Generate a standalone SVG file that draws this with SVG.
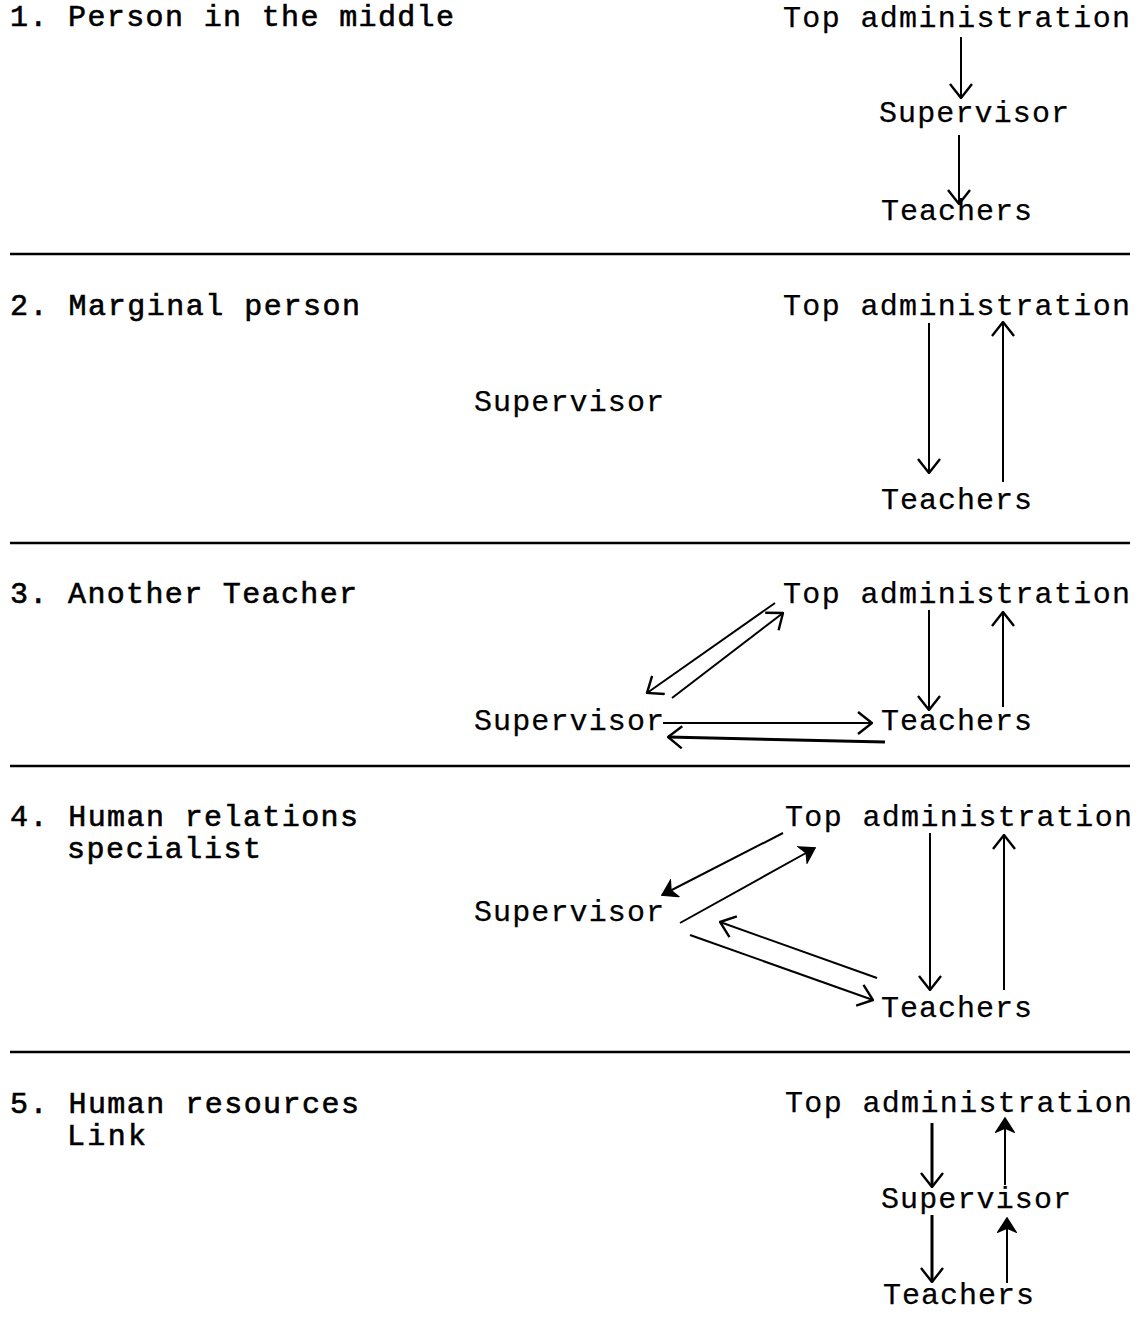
<svg xmlns="http://www.w3.org/2000/svg" width="1142" height="1337" viewBox="0 0 1142 1337">
<style>
text{font-family:"Liberation Mono","Courier New",monospace;font-size:30px;fill:#000;stroke:#000;stroke-width:0.25}
.lbl{stroke-width:0.6}
.rule{stroke:#000;stroke-width:2.6}
.c{stroke:#000;stroke-width:2;fill:none}
.t{stroke-width:3}
</style>
<defs>
<marker id="open" markerUnits="userSpaceOnUse" viewBox="0 0 16 24" markerWidth="16" markerHeight="24" refX="15" refY="12" orient="auto">
<path d="M1,1 L15,12 L1,23" fill="none" stroke="#000" stroke-width="2.4"/>
</marker>
<marker id="solid" markerUnits="userSpaceOnUse" viewBox="0 0 16 20" markerWidth="16" markerHeight="20" refX="15" refY="10" orient="auto">
<path d="M1,1 L15,10 L1,19 L5,10 Z" fill="#000" stroke="#000" stroke-width="1.5"/>
</marker>
</defs>
<rect width="1142" height="1337" fill="#fff"/>

<g id="dividers">
<line class="rule" x1="10" y1="254" x2="1130" y2="254"/>
<line class="rule" x1="10" y1="543" x2="1130" y2="543"/>
<line class="rule" x1="10" y1="766" x2="1130" y2="766"/>
<line class="rule" x1="10" y1="1052" x2="1130" y2="1052"/>
</g>

<g id="labels">
<text class="lbl" x="10" y="26" textLength="444">1. Person in the middle</text>
<text class="lbl" x="10" y="315" textLength="350">2. Marginal person</text>
<text class="lbl" x="10" y="603" textLength="347">3. Another Teacher</text>
<text class="lbl" x="10" y="826" textLength="348">4. Human relations</text>
<text class="lbl" x="67" y="858" textLength="194">specialist</text>
<text class="lbl" x="10" y="1113" textLength="349">5. Human resources</text>
<text class="lbl" x="67" y="1145" textLength="79">Link</text>
</g>

<g id="s1-top"><text x="783" y="27" textLength="347">Top administration</text></g>
<g id="s1-supervisor"><text x="879" y="122" textLength="190">Supervisor</text></g>
<g id="s1-teachers"><text x="881" y="220" textLength="151">Teachers</text></g>

<g id="s2-top"><text x="783" y="315" textLength="347">Top administration</text></g>
<g id="s2-supervisor"><text x="474" y="411" textLength="190">Supervisor</text></g>
<g id="s2-teachers"><text x="881" y="509" textLength="151">Teachers</text></g>

<g id="s3-top"><text x="783" y="603" textLength="347">Top administration</text></g>
<g id="s3-supervisor"><text x="474" y="730" textLength="190">Supervisor</text></g>
<g id="s3-teachers"><text x="881" y="730" textLength="151">Teachers</text></g>

<g id="s4-top"><text x="785" y="826" textLength="347">Top administration</text></g>
<g id="s4-supervisor"><text x="474" y="921" textLength="190">Supervisor</text></g>
<g id="s4-teachers"><text x="881" y="1017" textLength="151">Teachers</text></g>

<g id="s5-top"><text x="785" y="1112" textLength="347">Top administration</text></g>
<g id="s5-supervisor"><text x="881" y="1208" textLength="190">Supervisor</text></g>
<g id="s5-teachers"><text x="883" y="1304" textLength="151">Teachers</text></g>

<g id="connectors">
<line class="c" x1="961" y1="37" x2="961" y2="98" marker-end="url(#open)"/>
<line class="c" x1="959" y1="135" x2="959" y2="204" marker-end="url(#open)"/>

<line class="c" x1="929" y1="323" x2="929" y2="473" marker-end="url(#open)"/>
<line class="c" x1="1003" y1="482" x2="1003" y2="322" marker-end="url(#open)"/>

<line class="c" x1="775" y1="603" x2="647" y2="693" marker-end="url(#open)"/>
<line class="c" x1="672" y1="698" x2="783" y2="613" marker-end="url(#open)"/>
<line class="c" x1="663" y1="723" x2="872" y2="723" marker-end="url(#open)"/>
<line class="c t" x1="885" y1="742" x2="668" y2="737" marker-end="url(#open)"/>
<line class="c" x1="929" y1="610" x2="929" y2="710" marker-end="url(#open)"/>
<line class="c" x1="1003" y1="707" x2="1003" y2="612" marker-end="url(#open)"/>

<line class="c" x1="783" y1="833" x2="662" y2="895" marker-end="url(#solid)"/>
<line class="c" x1="680" y1="923" x2="815" y2="848" marker-end="url(#solid)"/>
<line class="c" x1="877" y1="978" x2="720" y2="922" marker-end="url(#open)"/>
<line class="c" x1="690" y1="935" x2="873" y2="1000" marker-end="url(#open)"/>
<line class="c" x1="930" y1="833" x2="930" y2="990" marker-end="url(#open)"/>
<line class="c" x1="1004" y1="990" x2="1004" y2="835" marker-end="url(#open)"/>

<line class="c t" x1="932" y1="1123" x2="932" y2="1187" marker-end="url(#open)"/>
<line class="c" x1="1005" y1="1185" x2="1005" y2="1118" marker-end="url(#solid)"/>
<line class="c t" x1="932" y1="1215" x2="932" y2="1282" marker-end="url(#open)"/>
<line class="c" x1="1007" y1="1283" x2="1007" y2="1218" marker-end="url(#solid)"/>
</g>
</svg>
